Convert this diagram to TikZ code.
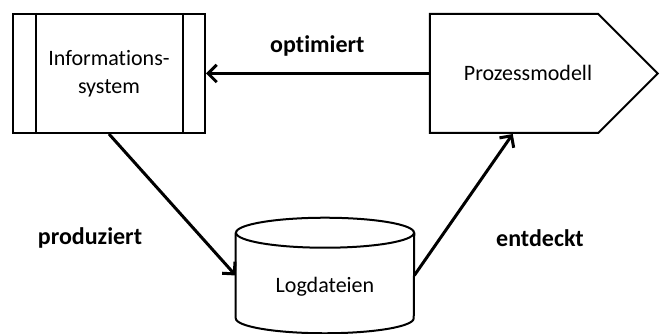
\documentclass[tikz,border=0pt]{standalone}
\usepackage{fontspec}
\setmainfont{Carlito}[Ligatures=NoCommon]
\usetikzlibrary{shapes, shapes.geometric, shapes.symbols, arrows.meta, positioning, calc}

\begin{document}
\begin{tikzpicture}[
    x=0.75pt, y=-0.75pt,
    box/.style={draw, line width=1.5pt, inner sep=0pt, align=center, font=\fontsize{16.5}{21}\selectfont},
    verb/.style={font=\fontsize{18}{22}\selectfont\bfseries},
    arrow/.style={-{Straight Barb[length=6.5pt, width=13pt]}, line width=2.25pt}
  ]
    \useasboundingbox (0,0) rectangle (662,334);

    % the three objects
    \node[box, minimum width=144pt, minimum height=89.25pt] (infosys) at (109,73.5) {Informations-\\system};
    \draw[line width=1.5pt] ($(infosys.north west)+(24,0)$) -- ($(infosys.south west)+(24,0)$);
    \draw[line width=1.5pt] ($(infosys.north east)+(-23,0)$) -- ($(infosys.south east)+(-23,0)$);

    \node[box, signal, signal to=east, signal pointer angle=90, minimum width=171pt, minimum height=89.25pt] (prozess) at (514,73.5) {};
    \node[font=\fontsize{16.5}{21}\selectfont] (prozesstext) at (528,73) {Prozessmodell};

    % cylinder body, caps drawn by hand
    \node[minimum width=133.5pt, minimum height=63.75pt, inner sep=0pt] (logs) at (325,275.5) {};
    \draw[line width=1.5pt] (logs.north west) -- (logs.south west)
        arc[start angle=180, end angle=360, x radius=66.75pt, y radius=11.25pt] -- (logs.north east);
    \draw[line width=1.5pt] (logs.north) ellipse[x radius=66.75pt, y radius=11.25pt];
    \node[font=\fontsize{16.5}{21}\selectfont] (logstext) at (325,287) {Logdateien};

    % relations
    \draw[arrow] (prozess.west) -- node[verb, yshift=21pt] (opt) {optimiert} (infosys.east);
    \draw[arrow] (infosys.south) -- (logs.west);
    \draw[arrow] (logs.east) -- ($(prozess.south west)+(84,0)$);

    \node[verb] (prod) at (90,238) {produziert};
    \node[verb] (entd) at (540,238) {entdeckt};
\end{tikzpicture}
\end{document}
